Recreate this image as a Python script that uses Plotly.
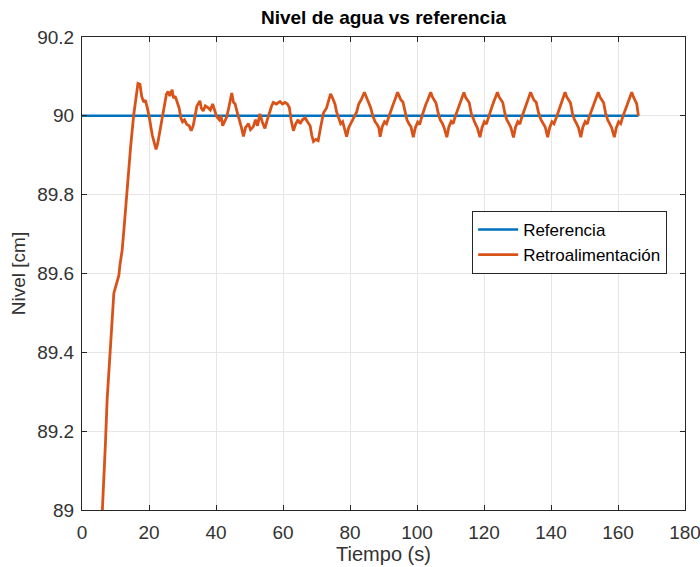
import plotly.graph_objects as go

# Reference signal
ref_t = [0, 166.1]
ref_y = [90.0, 90.0]

# Feedback signal
fb_t = [5.0, 6.2, 7.0, 7.5, 8.4, 9.0, 9.5, 10.5, 11.0, 11.3, 12.0, 12.6, 13.3, 13.8, 14.5,
        15.4, 16.2, 16.7, 17.3, 17.8, 18.4, 18.9, 19.4, 20.0, 21.0, 22.1, 22.6, 23.3, 23.9,
        24.5, 25.2, 25.7, 26.2, 26.9, 27.3, 27.8, 28.4, 29.0, 29.5, 30.0, 30.6, 31.3, 32.0,
        32.6, 33.2, 33.8, 34.3, 35.2, 35.6, 36.2, 36.8, 37.7, 38.3, 39.0, 39.6, 40.2, 41.0,
        41.5, 42.0, 42.6, 43.2, 43.8, 44.7, 45.2, 45.7, 46.3, 47.0, 47.6, 48.2, 48.8, 49.7,
        50.3, 51.1, 51.8, 52.4, 53.1, 53.8, 54.6, 55.3, 56.1, 56.6, 57.1, 58.0, 59.1, 59.8,
        60.6, 61.3, 61.9, 62.4, 63.1, 63.8, 64.5, 65.1, 65.8, 66.6, 67.3, 68.1, 68.6, 69.1,
        69.8, 70.5, 71.2, 72.1, 73.0, 73.6, 74.2, 74.8, 75.5, 76.0, 76.5, 77.2, 77.8, 78.4,
        79.0, 79.6, 80.5, 81.2, 82.0, 82.6, 83.3, 84.3, 85.0, 85.6, 86.2, 86.8, 87.5, 88.1,
        88.6, 89.0,
        89.6, 90.3, 90.9, 91.5, 92.1, 92.7, 93.3, 93.8, 94.2, 94.7, 95.2, 95.8, 96.4, 97.0,
        97.6, 98.2, 98.9,
        99.5, 100.2, 100.8, 101.4, 102.0, 102.6, 103.2, 103.7, 104.1, 104.6, 105.1, 105.7,
        106.3, 106.9, 107.5, 108.1, 108.9,
        109.5, 110.2, 110.8, 111.4, 112.0, 112.6, 113.2, 113.6, 114.0, 114.5, 115.0, 115.6,
        116.2, 116.8, 117.4, 118.0, 118.8,
        119.4, 120.1, 120.7, 121.3, 121.9, 122.5, 123.1, 123.6, 124.0, 124.5, 125.0, 125.6,
        126.2, 126.8, 127.4, 128.0, 128.8,
        129.4, 130.1, 130.7, 131.3, 131.9, 132.5, 133.1, 133.5, 133.9, 134.4, 134.9, 135.6,
        136.3, 137.0, 137.6, 138.3, 139.0,
        139.6, 140.3, 140.9, 141.6, 142.2, 142.8, 143.4, 143.8, 144.2, 144.7, 145.2, 145.8,
        146.4, 147.0, 147.6, 148.2, 148.9,
        149.5, 150.2, 150.8, 151.4, 152.0, 152.6, 153.2, 153.7, 154.1, 154.6, 155.1, 155.7,
        156.3, 156.9, 157.5, 158.1, 158.9,
        159.5, 160.2, 160.8, 161.4, 162.0, 162.6, 163.2, 163.7, 164.1, 164.6, 165.1, 165.6,
        166.1]
fb_y = [88.80, 89.00, 89.17, 89.28, 89.40, 89.50, 89.55, 89.58, 89.595, 89.62, 89.66, 89.72,
        89.80, 89.86, 89.92,
        90.00, 90.06, 90.082, 90.08, 90.05, 90.035, 90.04, 90.024, 90.00, 89.95, 89.915, 89.93,
        89.965, 90.00,
        90.03, 90.055, 90.062, 90.05, 90.066, 90.045, 90.05, 90.032, 90.02, 89.995, 89.985,
        89.99, 89.978, 89.975,
        89.962, 89.975, 90.005, 90.025, 90.038, 90.02, 90.012, 90.025, 90.02, 90.015, 90.03,
        90.015, 89.998, 89.99,
        90.0, 89.975, 89.985, 89.997, 90.02, 90.058, 90.035, 90.03, 90.01, 89.99, 89.97,
        89.948, 89.97, 89.98,
        89.965, 89.972, 89.99, 89.975, 90.005, 89.985, 89.968, 89.99, 90.013, 90.025, 90.034,
        90.03, 90.036, 90.03,
        90.034, 90.03, 90.021, 89.99, 89.962, 89.98, 89.99, 89.98, 89.99, 89.995, 89.985,
        89.975, 89.95, 89.935,
        89.94, 89.937, 89.97, 90.008, 90.02, 90.04, 90.056, 90.045, 90.03, 90.01, 89.995,
        89.98, 89.985, 89.965,
        89.947, 89.97, 89.985, 89.995, 90.01, 90.03, 90.04, 90.06, 90.045, 90.035, 90.02,
        90.0, 89.985, 89.978,
        89.97, 89.947,
        89.972, 89.985, 89.98, 89.995, 90.012, 90.025, 90.038, 90.05, 90.06, 90.05, 90.04,
        90.035, 90.01, 89.99, 89.98, 89.972, 89.946,
        89.97, 89.984, 89.978, 89.997, 90.015, 90.028, 90.04, 90.05, 90.06, 90.048, 90.04,
        90.032, 90.008, 89.99, 89.982, 89.97, 89.946,
        89.972, 89.986, 89.98, 89.998, 90.013, 90.027, 90.04, 90.05, 90.059, 90.047, 90.04,
        90.033, 90.006, 89.992, 89.98, 89.97, 89.946,
        89.97, 89.985, 89.979, 89.996, 90.012, 90.026, 90.04, 90.05, 90.06, 90.048, 90.04,
        90.034, 90.008, 89.99, 89.981, 89.971, 89.945,
        89.971, 89.985, 89.979, 89.997, 90.013, 90.027, 90.04, 90.05, 90.06, 90.047, 90.04,
        90.034, 90.007, 89.99, 89.98, 89.971, 89.946,
        89.97, 89.985, 89.98, 89.996, 90.012, 90.026, 90.04, 90.05, 90.06, 90.048, 90.04,
        90.033, 90.007, 89.99, 89.981, 89.97, 89.946,
        89.971, 89.985, 89.979, 89.997, 90.012, 90.027, 90.04, 90.05, 90.06, 90.048, 90.04,
        90.033, 90.007, 89.99, 89.98, 89.97, 89.946,
        89.97, 89.985, 89.98, 89.997, 90.012, 90.027, 90.04, 90.05, 90.06, 90.048, 90.04,
        90.03, 90.0]

x_ticks = [0, 20, 40, 60, 80, 100, 120, 140, 160, 180]
y_ticks = [89, 89.2, 89.4, 89.6, 89.8, 90, 90.2]
y_tick_text = ["89", "89.2", "89.4", "89.6", "89.8", "90", "90.2"]

FONT = "Liberation Sans, Arial, sans-serif"
AX = "#262626"

fig = go.Figure()
fig.add_trace(go.Scatter(x=ref_t, y=ref_y, mode="lines", name="Referencia",
                         line=dict(color="#0072BD", width=2.5)))
fig.add_trace(go.Scatter(x=fb_t, y=fb_y, mode="lines", name="Retroalimentación",
                         line=dict(color="#D95319", width=2.8)))

axis_common = dict(showline=True, linecolor=AX, linewidth=1, mirror="ticks",
                   ticks="inside", ticklen=5, tickcolor=AX, showgrid=True,
                   gridcolor="#e6e6e6", gridwidth=1, zeroline=False,
                   ticklabeloverflow="allow",
                   tickfont=dict(family=FONT, size=19, color="#333333"))

fig.update_layout(
    width=700, height=567,
    margin=dict(l=82, r=15, t=37, b=57, autoexpand=False),
    paper_bgcolor="white", plot_bgcolor="white",
    title=dict(text="<b>Nivel de agua vs referencia</b>", xref="paper", x=0.5,
               xanchor="center", y=0.97, yanchor="middle",
               font=dict(family=FONT, size=19, color="black")),
    xaxis=dict(range=[0, 180], tickvals=x_ticks, ticklabelstandoff=5,
               title=dict(text="Tiempo (s)", font=dict(family=FONT, size=20, color="#333333"),
                          standoff=0),
               **axis_common),
    yaxis=dict(range=[89, 90.2], tickvals=y_ticks, ticktext=y_tick_text, ticklabelstandoff=3,
               title=dict(text="Nivel [cm]", font=dict(family=FONT, size=19, color="#333333"),
                          standoff=6),
               **axis_common),
    legend=dict(x=0.647, y=0.632, xanchor="left", yanchor="top",
                bgcolor="white", bordercolor=AX, borderwidth=1,
                font=dict(family=FONT, size=17, color="black"),
                tracegroupgap=0, itemwidth=40),
    showlegend=True,
)

fig.write_html("out.html")
